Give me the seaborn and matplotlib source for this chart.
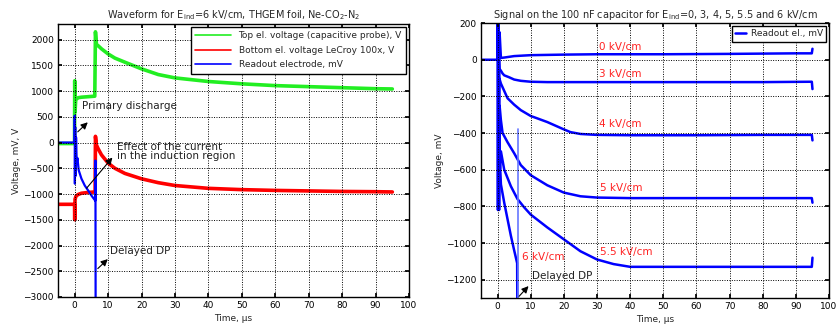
import matplotlib
matplotlib.use("Agg")
import matplotlib.pyplot as plt
import seaborn as sns
import pandas as pd

sns.set_theme(style="white")
plt.rcParams['font.family'] = ['DejaVu Sans']

# ---------------- Left panel data (THGEM waveform, E_ind = 6 kV/cm) ----------------
t_top = [-5, -0.05, 0.0, 0.1, 0.3, 1, 2, 4, 6.0, 6.2, 6.5, 7, 8, 10, 12, 15, 20, 25, 30, 40, 50, 60, 70, 80, 90, 95]
v_top = [-20, -20, 1200, 600, 830, 870, 880, 890, 900, 2150, 1900, 1880, 1820, 1720, 1640, 1560, 1430, 1320, 1255, 1185, 1140, 1105, 1085, 1065, 1045, 1040]

t_bot = [-5, -0.05, 0.0, 0.1, 0.4, 1, 2, 4, 6.1, 6.2, 6.5, 7, 8, 10, 12, 15, 20, 25, 30, 40, 50, 60, 70, 80, 90, 95]
v_bot = [-1200, -1200, -1500, -1100, -1040, -1010, -985, -970, -960, 120, -50, -120, -240, -400, -500, -600, -705, -780, -835, -890, -915, -930, -940, -950, -955, -960]

t_ro = [-5, -0.05, 0.0, 0.05, 0.15, 0.25, 0.4, 0.6, 0.8, 1.2, 2, 3, 4, 5, 6.15, 6.2, 6.25]
v_ro = [0, 0, 520, -800, 300, -650, 100, -400, -300, -540, -700, -835, -930, -1030, -1130, -350, -3200]

left_series = ["Top el. voltage (capacitive probe), V",
               "Bottom el. voltage LeCroy 100x, V",
               "Readout electrode, mV"]

# ---------------- Right panel data (100 nF capacitor signals) ----------------
r_t0 = [-5, -0.1, 0, 0.1, 0.2, 0.4, 0.6, 1, 2, 5, 10, 20, 30, 50, 70, 90, 94.8, 95]
r_v0 = [0, 0, 240, -820, 240, -600, 150, 10, 12, 20, 25, 28, 30, 30, 32, 35, 35, 60]

r_t3 = [0.3, 0.6, 1, 1.5, 2, 3.4, 5, 7, 10, 15, 20, 40, 60, 80, 94.8, 95]
r_v3 = [0, -50, -60, -75, -85, -95, -108, -115, -120, -122, -122, -122, -122, -122, -120, -160]

r_t4 = [0.2, 0.3, 0.5, 1, 2, 3, 5, 7, 10, 12, 15, 17, 20, 22, 25, 30, 40, 60, 80, 94.8, 95]
r_v4 = [150, -750, -100, -130, -170, -210, -245, -275, -307, -320, -340, -356, -380, -395, -405, -410, -412, -412, -410, -410, -440]

r_t5 = [0.3, 0.45, 0.6, 1, 1.5, 3, 5, 7, 10, 15, 20, 25, 30, 40, 60, 80, 94.8, 95]
r_v5 = [200, -820, -250, -330, -400, -450, -510, -575, -630, -685, -725, -745, -752, -755, -755, -755, -755, -780]

r_t55 = [0.5, 0.7, 1, 2, 4, 6, 8, 10, 15, 20, 25, 30, 35, 40, 60, 80, 94.8, 95]
r_v55 = [-300, -600, -500, -600, -690, -760, -805, -845, -915, -980, -1045, -1090, -1115, -1130, -1130, -1130, -1130, -1080]

r_t6 = [0.3, 1, 2, 3, 4, 5, 5.9, 5.95]
r_v6 = [-400, -680, -780, -870, -960, -1040, -1110, -1330]

r_tdp = [6.2, 6.2]
r_vdp = [-380, -1330]

right_curves = [(r_t0, r_v0), (r_t3, r_v3), (r_t4, r_v4), (r_t5, r_v5), (r_t55, r_v55), (r_t6, r_v6)]
right_labels = ["0 kV/cm", "3 kV/cm", "4 kV/cm", "5 kV/cm", "5.5 kV/cm", "6 kV/cm"]
right_label_pos = [(30.5, 68), (30.5, -78), (30.5, -352), (31, -700), (31, -1047), (7.4, -1074)]

xticks = [0, 10, 20, 30, 40, 50, 60, 70, 80, 90, 100]
left_yticks = [-3000, -2500, -2000, -1500, -1000, -500, 0, 500, 1000, 1500, 2000]
right_yticks = [-1200, -1000, -800, -600, -400, -200, 0, 200]

# ---------------- Figure ----------------
fig = plt.figure(figsize=(8.37, 3.30), dpi=100)
fig.patch.set_facecolor("white")
axL = fig.add_axes([0.0693, 0.100, 0.4194, 0.827])
axR = fig.add_axes([0.5747, 0.097, 0.4158, 0.833])

FS_TICK = 6.5
FS_TXT = 7.5


def style(ax, yticks, ylim):
    ax.set_xlim(-5, 100)
    ax.set_ylim(*ylim)
    ax.set_xticks(xticks)
    ax.set_yticks(yticks)
    ax.grid(True, color="black", linestyle=(0, (1, 1.5)), linewidth=0.7)
    ax.set_axisbelow(False)
    ax.tick_params(direction="in", length=3, labelsize=FS_TICK, colors="black",
                   top=True, right=True, bottom=True, left=True, pad=3)
    for s in ax.spines.values():
        s.set_color("black")
        s.set_linewidth(1.0)
    ax.set_xlabel("Time, µs", fontsize=FS_TICK, labelpad=3)


colorsL = ["#22ee22", "#ff0000", "#0000ff"]
lwL = [2.6, 2.6, 1.6]
for (tt, vv), lab, c, lw in zip([(t_top, v_top), (t_bot, v_bot), (t_ro, v_ro)], left_series, colorsL, lwL):
    sns.lineplot(x=tt, y=vv, ax=axL, color=c, linewidth=lw, label=lab,
                 estimator=None, sort=False)

style(axL, left_yticks, (-3000, 2300))
axL.set_ylabel("Voltage, mV, V", fontsize=FS_TICK, labelpad=2)
axL.set_title("Waveform for E$_{\\mathregular{ind}}$=6 kV/cm, THGEM foil, Ne-CO$_{\\mathregular{2}}$-N$_{\\mathregular{2}}$",
              fontsize=7, pad=4)
legL = axL.legend(loc="upper right", fontsize=6.5, frameon=True, fancybox=False,
                  edgecolor="black", framealpha=1, handlelength=4.0, borderpad=0.5,
                  labelspacing=0.6, borderaxespad=0.3)
legL.get_frame().set_linewidth(1.0)
for h in legL.get_lines():
    h.set_linewidth(1.2)

arrowprops = dict(arrowstyle="-|>", color="black", lw=0.8, mutation_scale=10)
axL.annotate("", xy=(4.5, 430), xytext=(0.3, 170), arrowprops=arrowprops)
axL.text(2.1, 700, "Primary discharge", fontsize=FS_TXT, va="center", ha="left", color="#222222")
axL.annotate("", xy=(11.8, -250), xytext=(3.0, -930), arrowprops=arrowprops)
axL.text(12.5, -80, "Effect of the current", fontsize=FS_TXT, va="center", ha="left", color="#222222")
axL.text(12.5, -260, "in the induction region", fontsize=FS_TXT, va="center", ha="left", color="#222222")
axL.annotate("", xy=(10.5, -2227), xytext=(6.3, -2485), arrowprops=arrowprops)
axL.text(10.5, -2100, "Delayed DP", fontsize=FS_TXT, va="center", ha="left", color="#222222")

# Right panel
for i, (tt, vv) in enumerate(right_curves):
    sns.lineplot(x=tt, y=vv, ax=axR, color="#0000ff", linewidth=1.8,
                 label="Readout el., mV" if i == 0 else None,
                 estimator=None, sort=False, legend=(i == 0))
sns.lineplot(x=r_tdp, y=r_vdp, ax=axR, color="#6677ff", linewidth=1.2,
             estimator=None, sort=False, legend=False)

style(axR, right_yticks, (-1300, 200))
axR.set_ylabel("Voltage, mV", fontsize=FS_TICK, labelpad=2)
axR.set_title("Signal on the 100 nF capacitor for E$_{\\mathregular{ind}}$=0, 3, 4, 5, 5.5 and 6 kV/cm",
              fontsize=7, pad=4)
legR = axR.legend(loc="upper right", fontsize=6.5, frameon=True, fancybox=False,
                  edgecolor="black", framealpha=1, handlelength=1.2, borderpad=0.4,
                  borderaxespad=0.3, handletextpad=0.5)
legR.get_frame().set_linewidth(1.0)

for lab, (x, y) in zip(right_labels, right_label_pos):
    axR.text(x, y, lab, color="#ff2222", fontsize=FS_TXT, va="center", ha="left")

axR.annotate("", xy=(9.9, -1224), xytext=(5.9, -1302), arrowprops=arrowprops)
axR.text(10.4, -1178, "Delayed DP", fontsize=FS_TXT, va="center", ha="left", color="#222222")

fig.savefig("out.png", dpi=100, facecolor="white")
